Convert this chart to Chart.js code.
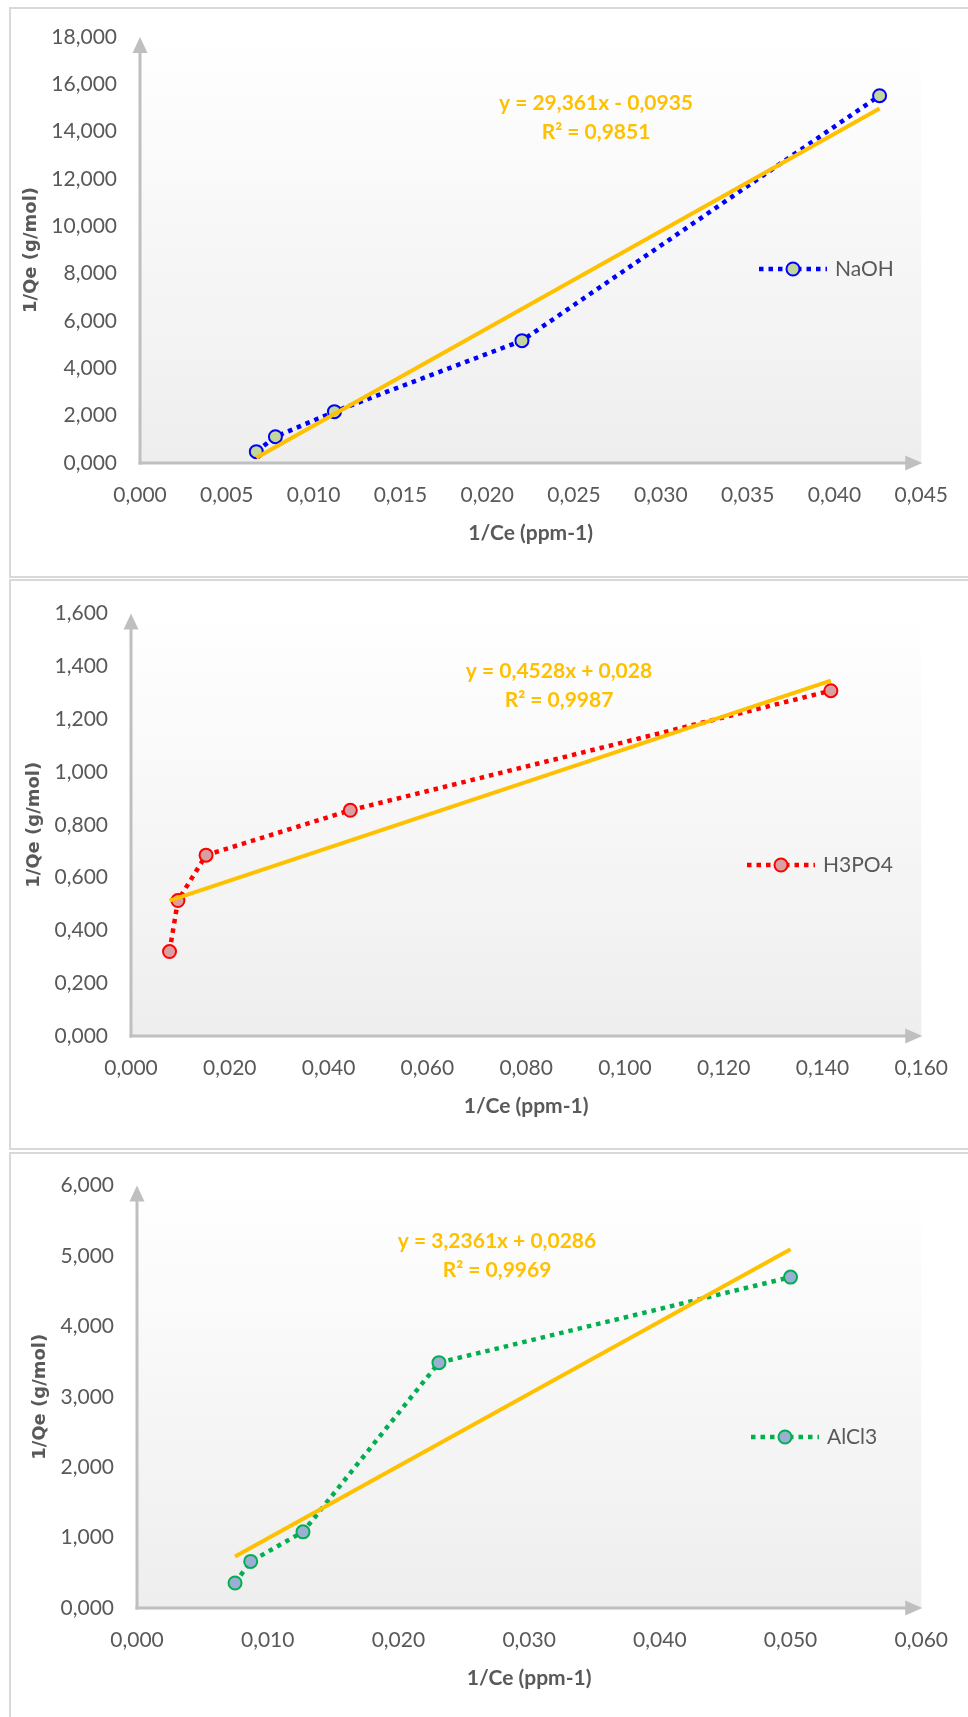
<!DOCTYPE html>
<html>
<head>
<meta charset="utf-8">
<script src="https://cdn.jsdelivr.net/npm/chart.js@4.4.1/dist/chart.umd.min.js"></script>
<style>
  html, body { margin: 0; padding: 0; background: #ffffff; width: 968px; height: 1717px; overflow: hidden; }
  .panel { position: absolute; left: 9px; width: 990px; border: 2px solid #d9d9d9; box-sizing: border-box; }
  .holder { position: absolute; left: 0; width: 968px; }
  canvas { display: block; }
</style>
</head>
<body>
<div class="panel" style="top:7px;height:571px"></div>
<div class="panel" style="top:579px;height:571px"></div>
<div class="panel" style="top:1152px;height:590px"></div>

<div class="holder" style="top:0px;height:578px"><canvas id="naoh" width="968" height="578"></canvas></div>
<div class="holder" style="top:578px;height:572px"><canvas id="h3po4" width="968" height="572"></canvas></div>
<div class="holder" style="top:1150px;height:567px"><canvas id="alcl3" width="968" height="567"></canvas></div>

<script>
// ---- Isotherm data: 1/Ce (ppm-1) against 1/Qe (g/mol) ----
const naohX  = [0.0067, 0.0078, 0.0112, 0.0220, 0.0426];
const naohY  = [0.48, 1.11, 2.17, 5.17, 15.52];

const h3po4X = [0.0078, 0.0095, 0.0152, 0.0444, 0.1417];
const h3po4Y = [0.320, 0.513, 0.685, 0.855, 1.308];

const alcl3X = [0.0075, 0.0087, 0.0127, 0.0231, 0.0500];
const alcl3Y = [0.355, 0.662, 1.082, 3.485, 4.700];

// Trendline labels
const naohEq  = ['y = 29,361x - 0,0935', 'R² = 0,9851'];
const h3po4Eq = ['y = 0,4528x + 0,028', 'R² = 0,9987'];
const alcl3Eq = ['y = 3,2361x + 0,0286', 'R² = 0,9969'];

// Axis ranges
const naohXAxis  = [0, 0.045, 0.005];
const naohYAxis  = [0, 18, 2];
const h3po4XAxis = [0, 0.16, 0.02];
const h3po4YAxis = [0, 1.6, 0.2];
const alcl3XAxis = [0, 0.06, 0.01];
const alcl3YAxis = [0, 6, 1];

const xTitle = '1/Ce (ppm-1)';
const yTitle = '1/Qe (g/mol)';

// ---- Styling ----
const GREY = '#595959';
const TREND = '#FFC000';
const BODY_FONT = "Lato, 'Open Sans', sans-serif";
const SERIES_W = 4.5;
const SERIES_DASH = [4.5, 5];
const fmt = v => Number(v).toFixed(3).replace('.', ',');

// Least-squares line over the range of the data
function linearFit(xs, ys) {
  const n = xs.length;
  const mx = xs.reduce((a, b) => a + b, 0) / n;
  const my = ys.reduce((a, b) => a + b, 0) / n;
  let sxy = 0, sxx = 0;
  for (let i = 0; i < n; i++) { sxy += (xs[i] - mx) * (ys[i] - my); sxx += (xs[i] - mx) ** 2; }
  const b = sxy / sxx, a = my - b * mx;
  const x0 = Math.min(...xs), x1 = Math.max(...xs);
  return [{ x: x0, y: a + b * x0 }, { x: x1, y: a + b * x1 }];
}

const decor = {
  id: 'decor',
  beforeDraw(chart, args, o) {
    const { ctx, chartArea: a } = chart;
    const g = ctx.createLinearGradient(0, a.top, 0, a.bottom);
    g.addColorStop(0, '#ffffff');
    g.addColorStop(1, '#eeeeee');
    ctx.save();
    ctx.fillStyle = g;
    ctx.fillRect(a.left, a.top + 8, a.right - a.left, a.bottom - a.top - 8);
    ctx.restore();
  },
  beforeDatasetsDraw(chart) {
    const { ctx, chartArea: a } = chart;
    ctx.save();
    ctx.strokeStyle = '#bfbfbf';
    ctx.fillStyle = '#bfbfbf';
    ctx.lineWidth = 3;
    ctx.beginPath();
    ctx.moveTo(a.left, a.bottom + 1.5);
    ctx.lineTo(a.left, a.top + 12);
    ctx.stroke();
    ctx.beginPath();
    ctx.moveTo(a.left - 1.5, a.bottom);
    ctx.lineTo(a.right - 12, a.bottom);
    ctx.stroke();
    ctx.beginPath();
    ctx.moveTo(a.left, a.top);
    ctx.lineTo(a.left - 7.5, a.top + 16);
    ctx.lineTo(a.left + 7.5, a.top + 16);
    ctx.closePath();
    ctx.fill();
    ctx.beginPath();
    ctx.moveTo(a.right + 1, a.bottom);
    ctx.lineTo(a.right - 16, a.bottom - 7.5);
    ctx.lineTo(a.right - 16, a.bottom + 7.5);
    ctx.closePath();
    ctx.fill();
    ctx.restore();
  },
  afterDatasetsDraw(chart, args, o) {
    const { ctx } = chart;
    ctx.save();
    // trendline equation
    ctx.fillStyle = TREND;
    ctx.font = `bold 21px ${BODY_FONT}`;
    ctx.textAlign = 'center';
    ctx.textBaseline = 'middle';
    ctx.fillText(o.eq[0], o.eqX, o.eqY);
    ctx.fillText(o.eq[1], o.eqX, o.eqY + 29);
    // legend entry
    ctx.strokeStyle = o.line;
    ctx.lineWidth = SERIES_W;
    ctx.lineCap = 'butt';
    ctx.setLineDash(SERIES_DASH);
    ctx.beginPath();
    ctx.moveTo(o.legX - 34, o.legY);
    ctx.lineTo(o.legX + 34, o.legY);
    ctx.stroke();
    ctx.setLineDash([]);
    ctx.beginPath();
    ctx.arc(o.legX, o.legY, 6.5, 0, Math.PI * 2);
    ctx.fillStyle = o.fill;
    ctx.fill();
    ctx.lineWidth = 2;
    ctx.stroke();
    ctx.fillStyle = GREY;
    ctx.font = `21px ${BODY_FONT}`;
    ctx.textAlign = 'left';
    ctx.fillText(o.name, o.legX + 42, o.legY);
    ctx.restore();
  }
};

const panels = [
  { id: 'naoh', name: 'NaOH', xs: naohX, ys: naohY, xAxis: naohXAxis, yAxis: naohYAxis, eq: naohEq,
    line: '#0000ff', fill: '#c3d69b',
    box: { top: 0, h: 578, left: 140, right: 929, areaTop: 37, areaBottom: 463, yTitleX: 31, eqX: 596, eqY: 103, legX: 793, legY: 269 } },
  { id: 'h3po4', name: 'H3PO4', xs: h3po4X, ys: h3po4Y, xAxis: h3po4XAxis, yAxis: h3po4YAxis, eq: h3po4Eq,
    line: '#ff0000', fill: '#d9a0a2',
    box: { top: 578, h: 572, left: 131, right: 929, areaTop: 609, areaBottom: 1036, yTitleX: 34, eqX: 559, eqY: 671, legX: 781, legY: 865 } },
  { id: 'alcl3', name: 'AlCl3', xs: alcl3X, ys: alcl3Y, xAxis: alcl3XAxis, yAxis: alcl3YAxis, eq: alcl3Eq,
    line: '#00b050', fill: '#9aafd3',
    box: { top: 1150, h: 567, left: 137, right: 929, areaTop: 1181, areaBottom: 1608, yTitleX: 40, eqX: 497, eqY: 1241, legX: 785, legY: 1437 } }
];

const X_SCALE_H = 90;

panels.forEach(p => {
  const b = p.box;
  const points = p.xs.map((x, i) => ({ x, y: p.ys[i] }));
  new Chart(document.getElementById(p.id), {
    type: 'scatter',
    data: {
      datasets: [
        { label: 'Linear (' + p.name + ')', data: linearFit(p.xs, p.ys), showLine: true,
          borderColor: TREND, borderWidth: 4, pointRadius: 0, order: 0, clip: false },
        { label: p.name, data: points, showLine: true,
          borderColor: p.line, borderWidth: SERIES_W, borderDash: SERIES_DASH, borderCapStyle: 'butt',
          pointRadius: 6.5, pointBorderWidth: 2, pointBorderColor: p.line, pointBackgroundColor: p.fill,
          order: 1, clip: false }
      ]
    },
    options: {
      responsive: false,
      animation: false,
      devicePixelRatio: 1,
      layout: { padding: { left: 0, top: b.areaTop - b.top, right: 968 - b.right,
                           bottom: b.h - (b.areaBottom - b.top) - X_SCALE_H } },
      plugins: {
        legend: { display: false },
        tooltip: { enabled: false },
        decor: { eq: p.eq, eqX: b.eqX, eqY: b.eqY - b.top, legX: b.legX, legY: b.legY - b.top,
                 name: p.name, line: p.line, fill: p.fill }
      },
      scales: {
        x: {
          type: 'linear', min: p.xAxis[0], max: p.xAxis[1],
          grid: { display: false, drawTicks: false }, border: { display: false },
          ticks: { stepSize: p.xAxis[2], padding: 20, color: GREY, font: { family: BODY_FONT, size: 21 },
                   callback: v => fmt(v), maxRotation: 0, autoSkip: false },
          title: { display: true, text: xTitle, color: GREY, font: { family: BODY_FONT, size: 21, weight: 'bold' },
                   padding: { top: 0, bottom: 7 } },
          afterFit(s) { s.height = X_SCALE_H; }
        },
        y: {
          type: 'linear', min: p.yAxis[0], max: p.yAxis[1],
          grid: { display: false, drawTicks: false }, border: { display: false },
          ticks: { stepSize: p.yAxis[2], padding: 23, color: GREY, font: { family: BODY_FONT, size: 21 },
                   callback: v => fmt(v) },
          title: { display: true, text: yTitle, color: GREY, font: { family: "'DejaVu Sans', sans-serif", size: 18, weight: 'bold' },
                   padding: { top: b.yTitleX - 10.8, bottom: 0 } },
          afterFit(s) { s.width = b.left; }
        }
      }
    },
    plugins: [decor]
  });
});
</script>
</body>
</html>
